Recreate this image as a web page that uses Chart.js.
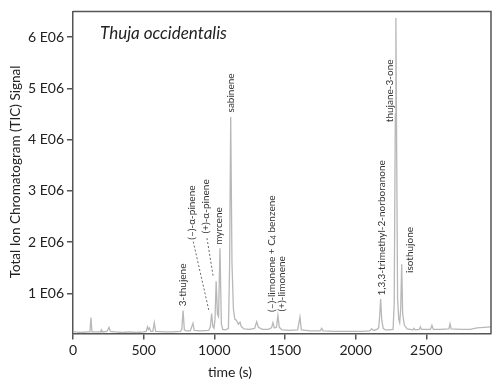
<!DOCTYPE html>
<html>
<head>
<meta charset="utf-8">
<script src="https://cdn.jsdelivr.net/npm/chart.js@4.4.1/dist/chart.umd.min.js"></script>
<style>
  html, body { margin: 0; padding: 0; background: #fff; }
</style>
</head>
<body>
<canvas id="ticChart" width="500" height="388"></canvas>
<script>
// retention time (s) and TIC signal (in units of 1 E06)
const times = [
    0, 20, 60, 100, 120, 127, 134, 170, 195, 200, 205, 240, 255, 265, 300, 350, 400, 450, 500,
    518, 527, 533, 541, 550, 565, 575, 585, 650, 700, 760, 770, 779, 788, 800, 830, 849, 858,
    900, 960, 972, 981, 990, 998, 1005, 1013, 1022, 1030, 1040, 1050, 1060, 1080, 1100, 1108,
    1116, 1125, 1135, 1145, 1155, 1162, 1170, 1182, 1190, 1210, 1250, 1285, 1300, 1312, 1340,
    1380, 1405, 1415, 1425, 1440, 1450, 1460, 1480, 1530, 1590, 1606, 1616, 1680, 1750, 1760,
    1770, 1850, 1950, 2050, 2100, 2113, 2130, 2150, 2163, 2170, 2177, 2185, 2195, 2210, 2240,
    2265, 2273, 2281, 2285, 2290, 2297, 2305, 2312, 2319, 2326, 2333, 2345, 2365, 2405, 2413,
    2421, 2450, 2458, 2466, 2530, 2540, 2550, 2600, 2660, 2668, 2676, 2750, 2810, 2860, 2910, 2958
];
const signal = [
    0.26, 0.25, 0.24, 0.25, 0.25, 0.53, 0.25, 0.25, 0.25, 0.29, 0.25, 0.26, 0.34, 0.26, 0.25, 0.24, 0.25, 0.24, 0.25,
    0.26, 0.35, 0.30, 0.33, 0.26, 0.26, 0.43, 0.26, 0.25, 0.25, 0.26, 0.30, 0.67, 0.29, 0.27, 0.27, 0.42, 0.28,
    0.27, 0.28, 0.35, 0.61, 0.35, 0.32, 0.50, 1.24, 0.60, 0.55, 1.88, 0.40, 0.30, 0.29, 0.32, 1.50,
    4.44, 1.60, 0.70, 0.50, 0.48, 0.45, 0.40, 0.44, 0.36, 0.31, 0.30, 0.32, 0.45, 0.34, 0.30,
    0.30, 0.33, 0.43, 0.33, 0.34, 0.57, 0.34, 0.29, 0.28, 0.29, 0.54, 0.29, 0.27, 0.27, 0.32,
    0.27, 0.26, 0.26, 0.26, 0.27, 0.31, 0.28, 0.30, 0.33, 0.55, 0.89, 0.48, 0.32, 0.29, 0.29,
    0.30, 0.80, 4.50, 6.37, 4.00, 0.90, 0.50, 0.43, 0.70, 1.57, 0.60, 0.38, 0.31, 0.29, 0.32,
    0.29, 0.30, 0.35, 0.30, 0.30, 0.38, 0.30, 0.30, 0.31, 0.41, 0.31, 0.30, 0.30, 0.33, 0.34, 0.35
];

const xTicks = [0, 500, 1000, 1500, 2000, 2500];
const yTicks = [1, 2, 3, 4, 5, 6];

// peak labels: name, time (s), signal at the foot of the rotated text
const peakNames = ['3-thujene', '(–)-α-pinene', '(+)-α-pinene', 'myrcene', 'sabinene',
    '(–)-limonene + C|4| benzene', '(+)-limonene', '1,3,3-trimethyl-2-norboranone', 'thujane-3-one', 'isothujone'];
const peakTimes = [778, 840, 941, 1035, 1116, 1406, 1477, 2184, 2243, 2380];
const peakLabelBase = [0.75, 2.05, 2.17, 1.95, 4.53, 0.64, 0.65, 0.96, 4.34, 1.40];

// dashed leader lines [t1, s1, t2, s2]
const leaders = [
    [851, 2.01, 964, 0.64],
    [948, 2.08, 993, 1.32]
];

const FONT = 'Lato, "Open Sans", sans-serif';
const INK = '#222';
const AXIS = '#555';

const annotations = {
    id: 'annotations',
    afterDraw(chart) {
        const { ctx, chartArea: a, scales: { x, y } } = chart;
        ctx.save();

        // frame top and right
        ctx.strokeStyle = AXIS;
        ctx.lineWidth = 1.5;
        ctx.beginPath();
        ctx.moveTo(a.left, a.top);
        ctx.lineTo(a.right, a.top);
        ctx.lineTo(a.right, a.bottom);
        ctx.stroke();

        // species name
        ctx.fillStyle = INK;
        ctx.font = `italic 17px ${FONT}`;
        ctx.textBaseline = 'middle';
        ctx.textAlign = 'left';
        ctx.fillText('Thuja occidentalis', 100, 34);

        // x title
        ctx.font = `14px ${FONT}`;
        ctx.textAlign = 'center';
        ctx.fillText('time (s)', 230, 372);

        // y title
        ctx.save();
        ctx.translate(16, 172);
        ctx.rotate(-Math.PI / 2);
        ctx.font = `13.5px ${FONT}`;
        ctx.fillText('Total Ion Chromatogram (TIC) Signal', 0, 0);
        ctx.restore();

        // leader lines
        ctx.strokeStyle = '#444';
        ctx.lineWidth = 0.8;
        ctx.setLineDash([2, 2]);
        leaders.forEach(([t1, s1, t2, s2]) => {
            ctx.beginPath();
            ctx.moveTo(x.getPixelForValue(t1), y.getPixelForValue(s1));
            ctx.lineTo(x.getPixelForValue(t2), y.getPixelForValue(s2));
            ctx.stroke();
        });
        ctx.setLineDash([]);

        // peak labels, rotated
        ctx.fillStyle = '#333';
        ctx.textAlign = 'left';
        ctx.textBaseline = 'middle';
        peakNames.forEach((name, i) => {
            ctx.save();
            ctx.translate(x.getPixelForValue(peakTimes[i]), y.getPixelForValue(peakLabelBase[i]));
            ctx.rotate(-Math.PI / 2);
            let pos = 0;
            name.split('|').forEach((part, k) => {
                const sub = k % 2 === 1;
                ctx.font = sub ? `7px ${FONT}` : `10px ${FONT}`;
                ctx.fillText(part, pos, sub ? 2.5 : 0);
                pos += ctx.measureText(part).width;
            });
            ctx.restore();
        });

        ctx.restore();
    }
};

new Chart(document.getElementById('ticChart'), {
    type: 'line',
    data: {
        datasets: [{
            data: times.map((t, i) => ({ x: t, y: signal[i] })),
            borderColor: '#b8b8b8',
            borderWidth: 1.3,
            pointRadius: 0,
            tension: 0,
            fill: false
        }]
    },
    options: {
        responsive: false,
        animation: false,
        layout: { padding: { top: 6, right: 9, left: 0, bottom: 0 } },
        plugins: {
            legend: { display: false },
            tooltip: { enabled: false }
        },
        scales: {
            x: {
                type: 'linear',
                min: 0,
                max: 2958,
                afterBuildTicks: (s) => { s.ticks = xTicks.map(v => ({ value: v })); },
                afterFit: (s) => { s.height = 54.5; },
                ticks: {
                    color: INK,
                    font: { family: FONT, size: 14 },
                    padding: 3,
                    maxRotation: 0,
                    autoSkip: false,
                    callback: (v) => String(v)
                },
                grid: { drawOnChartArea: false, tickLength: 6, color: AXIS, lineWidth: 1.5 },
                border: { color: AXIS, width: 1.5 }
            },
            y: {
                min: 0.22,
                max: 6.5,
                afterBuildTicks: (s) => { s.ticks = yTicks.map(v => ({ value: v })); },
                afterFit: (s) => { s.width = 73; },
                ticks: {
                    color: INK,
                    font: { family: FONT, size: 14 },
                    padding: 3,
                    callback: (v) => `${v} E06`
                },
                grid: { drawOnChartArea: false, tickLength: 6, color: AXIS, lineWidth: 1.5 },
                border: { color: AXIS, width: 1.5 }
            }
        }
    },
    plugins: [annotations]
});
</script>
</body>
</html>
